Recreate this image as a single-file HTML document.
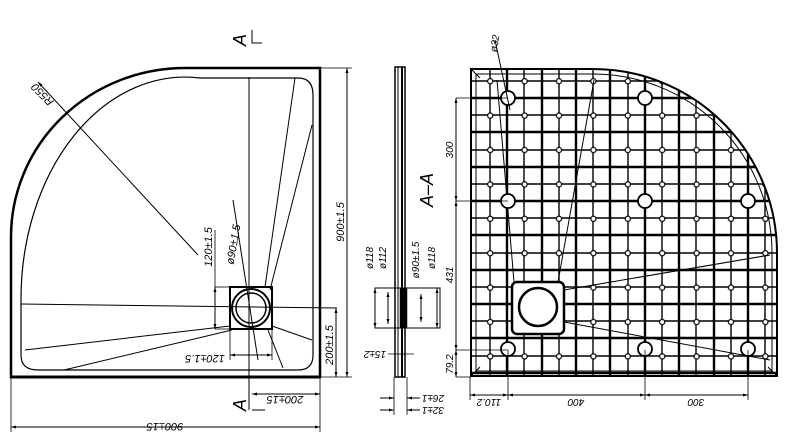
<!DOCTYPE html>
<html><head><meta charset="utf-8"><style>
html,body{margin:0;padding:0;background:#fff;}
svg{display:block;}
text{font-family:"Liberation Sans",sans-serif;font-style:italic;fill:#000;}
</style></head><body>
<svg width="799" height="440" viewBox="0 0 799 440" xmlns="http://www.w3.org/2000/svg">
<defs>
<clipPath id="cp"><path d="M471 69 H593 A184 184 0 0 1 777 253 V376 H471 Z"/></clipPath>
<marker id="ar" viewBox="0 0 10 10" refX="10" refY="5" markerWidth="7" markerHeight="5" orient="auto-start-reverse"><path d="M0 2 L10 5 L0 8 Z" fill="#000"/></marker>
<pattern id="dots" patternUnits="userSpaceOnUse" x="473" y="64" width="34.4" height="34.4"><circle cx="17.2" cy="17.2" r="2.6" fill="#fff" stroke="#000" stroke-width="1.2"/></pattern>
</defs>
<g fill="none" stroke="#000">
<!-- LEFT VIEW -->
<path d="M11 377 V237 A174 169 0 0 1 185 68 H320 V377 Z" stroke-width="2.5"/>
<line x1="11" y1="377" x2="320" y2="377" stroke-width="3"/>
<path d="M21 300 A164 222 0 0 1 200 78 H298 Q313 78 313 95 V355 Q313 370 298 370 H38 Q21 370 21 355 Z" stroke-width="1.2"/>
<line x1="249" y1="77" x2="249" y2="410" stroke-width="1"/>
<line x1="21" y1="304" x2="337" y2="308" stroke-width="1"/>
<line x1="25" y1="350" x2="230" y2="326" stroke-width="1"/>
<line x1="64" y1="370" x2="232" y2="330" stroke-width="1"/>
<line x1="265" y1="287" x2="295" y2="78" stroke-width="1"/>
<line x1="270" y1="290" x2="312" y2="125" stroke-width="1"/>
<line x1="272" y1="326" x2="312" y2="340" stroke-width="1"/>
<line x1="268" y1="330" x2="283" y2="368" stroke-width="1"/>
<line x1="38" y1="82" x2="198" y2="255" stroke-width="1" marker-start="url(#ar)"/>
<rect x="230" y="287" width="42" height="42" stroke-width="2"/>
<circle cx="251" cy="308" r="19" stroke-width="2"/>
<circle cx="251" cy="308" r="15" stroke-width="1.5"/>
<line x1="233" y1="200" x2="258" y2="360" stroke-width="1"/>
<line x1="320" y1="68" x2="352" y2="68" stroke-width="0.8"/>
<line x1="347" y1="68" x2="347" y2="377" stroke-width="1" marker-start="url(#ar)" marker-end="url(#ar)"/>
<line x1="320" y1="377" x2="352" y2="377" stroke-width="0.8"/>
<line x1="336" y1="308" x2="336" y2="377" stroke-width="1" marker-start="url(#ar)" marker-end="url(#ar)"/>
<line x1="215" y1="287" x2="215" y2="329" stroke-width="1" marker-start="url(#ar)" marker-end="url(#ar)"/>
<line x1="215" y1="230" x2="215" y2="287" stroke-width="0.8"/>
<line x1="215" y1="287" x2="230" y2="287" stroke-width="0.8"/>
<line x1="215" y1="329" x2="230" y2="329" stroke-width="0.8"/>
<line x1="230" y1="329" x2="230" y2="360" stroke-width="0.8"/>
<line x1="272" y1="329" x2="272" y2="360" stroke-width="0.8"/>
<line x1="230" y1="355" x2="272" y2="355" stroke-width="1" marker-start="url(#ar)" marker-end="url(#ar)"/>
<line x1="320" y1="377" x2="320" y2="432" stroke-width="0.8"/>
<line x1="11" y1="377" x2="11" y2="432" stroke-width="0.8"/>
<line x1="252" y1="394" x2="320" y2="394" stroke-width="1" marker-start="url(#ar)" marker-end="url(#ar)"/>
<line x1="11" y1="427" x2="320" y2="427" stroke-width="1" marker-start="url(#ar)" marker-end="url(#ar)"/>
<path d="M252 410 H265 M252 30 V43 H262" stroke-width="1"/>
<!-- MIDDLE VIEW -->
<rect x="395" y="67" width="10" height="310" stroke-width="1.5"/>
<line x1="398" y1="67" x2="398" y2="377" stroke-width="1"/>
<line x1="402" y1="67" x2="402" y2="377" stroke-width="2"/>
<rect x="400" y="288" width="7" height="40" fill="#000" stroke-width="0.5"/>
<rect x="375" y="288" width="65" height="40" stroke-width="1"/>
<line x1="375" y1="288" x2="375" y2="328" stroke-width="1" marker-start="url(#ar)" marker-end="url(#ar)"/>
<line x1="388" y1="292" x2="388" y2="324" stroke-width="1" marker-start="url(#ar)" marker-end="url(#ar)"/>
<line x1="421" y1="294" x2="421" y2="322" stroke-width="1" marker-start="url(#ar)" marker-end="url(#ar)"/>
<line x1="437" y1="288" x2="437" y2="328" stroke-width="1" marker-start="url(#ar)" marker-end="url(#ar)"/>
<line x1="388" y1="354" x2="414" y2="354" stroke-width="0.8"/>
<line x1="394" y1="377" x2="394" y2="415" stroke-width="0.8"/>
<line x1="407" y1="377" x2="407" y2="415" stroke-width="0.8"/>
<line x1="380" y1="398" x2="394" y2="398" stroke-width="1" marker-end="url(#ar)"/>
<line x1="380" y1="410" x2="394" y2="410" stroke-width="1" marker-end="url(#ar)"/>
<line x1="420" y1="398" x2="407" y2="398" stroke-width="1" marker-end="url(#ar)"/>
<line x1="420" y1="410" x2="407" y2="410" stroke-width="1" marker-end="url(#ar)"/>
<!-- RIGHT VIEW -->
<g clip-path="url(#cp)">
<g stroke-width="1.4">
<line x1="490" y1="60" x2="490" y2="380"/><line x1="524" y1="60" x2="524" y2="380"/><line x1="559" y1="60" x2="559" y2="380"/><line x1="593" y1="60" x2="593" y2="380"/><line x1="628" y1="60" x2="628" y2="380"/><line x1="662" y1="60" x2="662" y2="380"/><line x1="696" y1="60" x2="696" y2="380"/><line x1="731" y1="60" x2="731" y2="380"/><line x1="765" y1="60" x2="765" y2="380"/>
<line x1="460" y1="81" x2="790" y2="81"/><line x1="460" y1="115" x2="790" y2="115"/><line x1="460" y1="150" x2="790" y2="150"/><line x1="460" y1="184" x2="790" y2="184"/><line x1="460" y1="218" x2="790" y2="218"/><line x1="460" y1="253" x2="790" y2="253"/><line x1="460" y1="287" x2="790" y2="287"/><line x1="460" y1="321" x2="790" y2="321"/><line x1="460" y1="356" x2="790" y2="356"/>
</g>
<g stroke-width="2.4">
<line x1="507" y1="60" x2="507" y2="380"/><line x1="542" y1="60" x2="542" y2="380"/><line x1="576" y1="60" x2="576" y2="380"/><line x1="610" y1="60" x2="610" y2="380"/><line x1="645" y1="60" x2="645" y2="380"/><line x1="679" y1="60" x2="679" y2="380"/><line x1="714" y1="60" x2="714" y2="380"/><line x1="748" y1="60" x2="748" y2="380"/>
<line x1="460" y1="98" x2="790" y2="98"/><line x1="460" y1="132" x2="790" y2="132"/><line x1="460" y1="167" x2="790" y2="167"/><line x1="460" y1="201" x2="790" y2="201"/><line x1="460" y1="235" x2="790" y2="235"/><line x1="460" y1="270" x2="790" y2="270"/><line x1="460" y1="304" x2="790" y2="304"/><line x1="460" y1="338" x2="790" y2="338"/><line x1="460" y1="373" x2="790" y2="373"/>
</g>
<rect x="471" y="69" width="306" height="307" fill="url(#dots)" stroke="none"/>
<rect x="512" y="282" width="52" height="52" rx="5" fill="#fff" stroke-width="2.5"/>
</g>
<path d="M471 69 H593 A184 184 0 0 1 777 253 V376 H471 Z" stroke-width="2"/>
<path d="M476 74 H593 A179 179 0 0 1 772 253 V371 H476 Z" stroke-width="1"/>
<path d="M471 69 L480 78 M471 376 L480 367 M777 376 L768 367" stroke-width="1"/>
<circle cx="538" cy="307" r="19" fill="#fff" stroke-width="2.5"/>
<line x1="497" y1="80" x2="514" y2="282" stroke-width="1"/>
<line x1="594" y1="80" x2="558" y2="282" stroke-width="1"/>
<line x1="564" y1="290" x2="770" y2="255" stroke-width="1"/>
<line x1="564" y1="322" x2="770" y2="360" stroke-width="1"/>
<g stroke-width="1.8" fill="#fff">
<circle cx="508" cy="98" r="7"/><circle cx="645" cy="98" r="7"/><circle cx="508" cy="201" r="7"/><circle cx="645" cy="201" r="7"/><circle cx="748" cy="201" r="7"/><circle cx="508" cy="349" r="7"/><circle cx="645" cy="349" r="7"/><circle cx="748" cy="349" r="7"/>
</g>
<line x1="495" y1="40" x2="510" y2="110" stroke-width="1"/>
<line x1="456" y1="98" x2="508" y2="98" stroke-width="0.8"/>
<line x1="456" y1="201" x2="508" y2="201" stroke-width="0.8"/>
<line x1="456" y1="350" x2="508" y2="350" stroke-width="0.8"/>
<line x1="456" y1="98" x2="456" y2="201" stroke-width="1" marker-start="url(#ar)" marker-end="url(#ar)"/>
<line x1="456" y1="201" x2="456" y2="350" stroke-width="1" marker-start="url(#ar)" marker-end="url(#ar)"/>
<line x1="456" y1="350" x2="456" y2="377" stroke-width="1" marker-start="url(#ar)" marker-end="url(#ar)"/>
<line x1="456" y1="377" x2="471" y2="377" stroke-width="0.8"/>
<line x1="470" y1="377" x2="470" y2="400" stroke-width="0.8"/>
<line x1="508" y1="350" x2="508" y2="400" stroke-width="0.8"/>
<line x1="645" y1="350" x2="645" y2="400" stroke-width="0.8"/>
<line x1="748" y1="350" x2="748" y2="400" stroke-width="0.8"/>
<line x1="470" y1="395" x2="508" y2="395" stroke-width="1" marker-start="url(#ar)" marker-end="url(#ar)"/>
<line x1="508" y1="395" x2="645" y2="395" stroke-width="1" marker-start="url(#ar)" marker-end="url(#ar)"/>
<line x1="645" y1="395" x2="748" y2="395" stroke-width="1" marker-start="url(#ar)" marker-end="url(#ar)"/>
</g>
<g font-size="11">
<text transform="translate(45,92) rotate(225)" text-anchor="middle">R550</text>
<text transform="translate(344,222) rotate(-90)" text-anchor="middle">900±1.5</text>
<text transform="translate(333,345) rotate(-90)" text-anchor="middle">200±1.5</text>
<text transform="translate(212,247) rotate(-90)" text-anchor="middle">120±1.5</text>
<text transform="translate(237,245) rotate(-80)" text-anchor="middle">ø90±1.5</text>
<text transform="translate(205,355) rotate(180)" text-anchor="middle">120±1.5</text>
<text transform="translate(285,396) rotate(180)" text-anchor="middle">200±15</text>
<text transform="translate(165,423) rotate(180)" text-anchor="middle">900±15</text>
<text transform="translate(246,405) rotate(-90)" text-anchor="middle" font-size="18">A</text>
<text transform="translate(246,40) rotate(-90)" text-anchor="middle" font-size="18">A</text>
<text transform="translate(433,190) rotate(-90)" text-anchor="middle" font-size="18">A–A</text>
<text transform="translate(373,258) rotate(-90)" text-anchor="middle" font-size="10">ø118</text>
<text transform="translate(386,258) rotate(-90)" text-anchor="middle" font-size="10">ø112</text>
<text transform="translate(419,260) rotate(-90)" text-anchor="middle" font-size="10">ø90±1.5</text>
<text transform="translate(435,258) rotate(-90)" text-anchor="middle" font-size="10">ø118</text>
<text transform="translate(375,351) rotate(180)" text-anchor="middle" font-size="10">15±2</text>
<text transform="translate(433,395) rotate(180)" text-anchor="middle" font-size="10">26±1</text>
<text transform="translate(433,407) rotate(180)" text-anchor="middle" font-size="10">32±1</text>
<text transform="translate(453,150) rotate(-90)" text-anchor="middle" font-size="10">300</text>
<text transform="translate(453,275) rotate(-90)" text-anchor="middle" font-size="10">431</text>
<text transform="translate(453,364) rotate(-90)" text-anchor="middle" font-size="10">79.2</text>
<text transform="translate(489,399) rotate(180)" text-anchor="middle" font-size="10">110.2</text>
<text transform="translate(576,399) rotate(180)" text-anchor="middle" font-size="10">400</text>
<text transform="translate(696,399) rotate(180)" text-anchor="middle" font-size="10">300</text>
<text transform="translate(498,44) rotate(-80)" text-anchor="middle" font-size="10">ø32</text>
</g>
</svg>
</body></html>
